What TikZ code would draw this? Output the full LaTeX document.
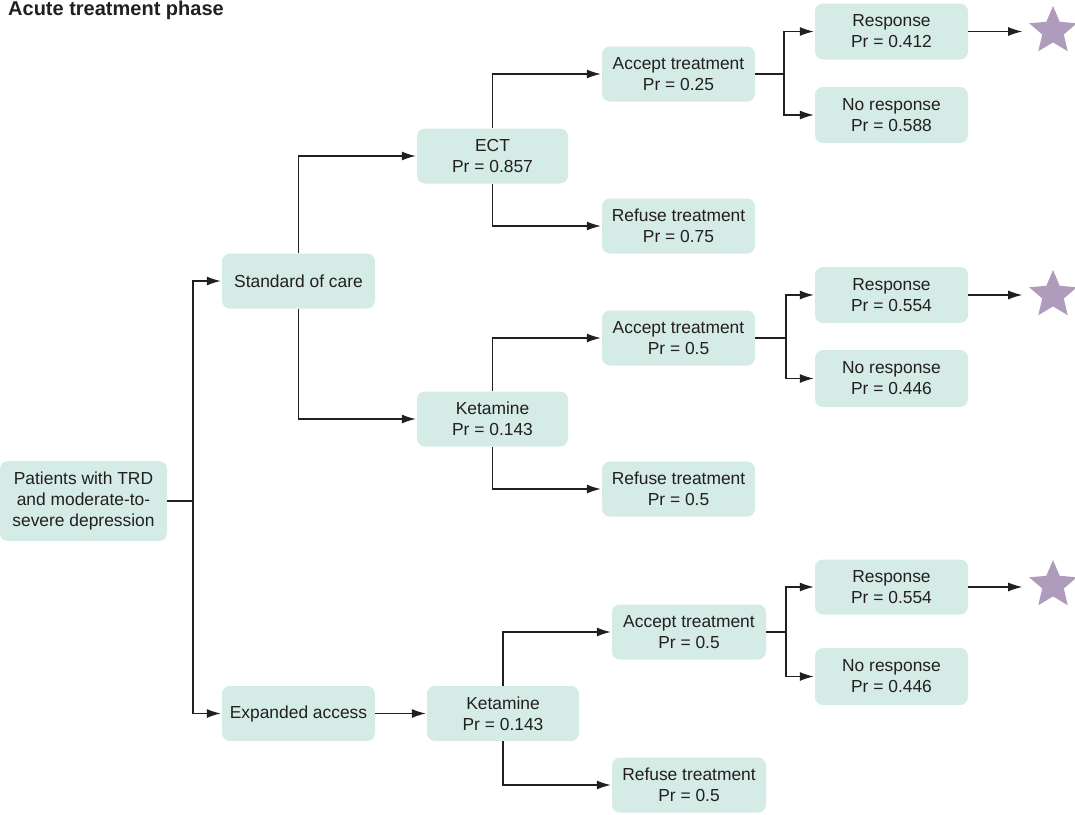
\documentclass[tikz,border=0pt]{standalone}
\usepackage{fontspec}
\setmainfont{Liberation Sans}
\usetikzlibrary{shapes.geometric,arrows.meta}
\definecolor{boxfill}{HTML}{D4EBE6}
\definecolor{inkc}{HTML}{231F20}
\definecolor{starc}{HTML}{AF9BBB}
\begin{document}
\begin{tikzpicture}[x=1pt,y=-1pt,
  box/.style={fill=boxfill,draw=none,rounded corners=8pt,align=center,inner sep=0pt,
    text=inkc,font=\fontsize{17.4}{21}\selectfont,minimum width=153pt,minimum height=55pt},
  conn/.style={draw=inkc,line width=1.2pt},
  arr/.style={conn,-{Latex[length=14pt,width=9pt]},shorten >=1pt},
  starnode/.style={star,star points=5,star point ratio=2.2,fill=starc,draw=none,minimum size=50pt,inner sep=0pt}]
\useasboundingbox (0,0) rectangle (1075,814);
\node[anchor=north west,inner sep=0pt,text=inkc,font=\fontsize{20}{22}\selectfont\bfseries] (title) at (8,1) {Acute treatment phase};
% nodes
\node[box,minimum width=167pt,minimum height=80pt] (pat) at (83.5,501) {Patients with TRD\\and moderate-to-\\severe depression};
\node[box] (soc) at (298.5,281) {Standard of care};
\node[box] (ea) at (298.5,713.5) {Expanded access};
\node[box,minimum width=151pt] (ect) at (492.5,156) {ECT\\Pr = 0.857};
\node[box,minimum width=151pt] (ket1) at (492.5,419) {Ketamine\\Pr = 0.143};
\node[box,minimum width=152pt] (ket2) at (503,713.5) {Ketamine\\Pr = 0.143};
\node[box] (acc1) at (678.5,74) {Accept treatment\\Pr = 0.25};
\node[box] (ref1) at (678.5,226) {Refuse treatment\\Pr = 0.75};
\node[box] (acc2) at (678.5,338) {Accept treatment\\Pr = 0.5};
\node[box] (ref2) at (678.5,489) {Refuse treatment\\Pr = 0.5};
\node[box,minimum width=154pt] (acc3) at (689,632) {Accept treatment\\Pr = 0.5};
\node[box,minimum width=154pt] (ref3) at (689,785) {Refuse treatment\\Pr = 0.5};
\node[box,minimum height=56pt] (r1) at (891.5,31.5) {Response\\Pr = 0.412};
\node[box,minimum height=56pt] (n1) at (891.5,115) {No response\\Pr = 0.588};
\node[box,minimum height=56pt] (r2) at (891.5,295) {Response\\Pr = 0.554};
\node[box,minimum height=57pt] (n2) at (891.5,378.5) {No response\\Pr = 0.446};
\node[box] (r3) at (891.5,587) {Response\\Pr = 0.554};
\node[box,minimum height=57pt] (n3) at (891.5,676.5) {No response\\Pr = 0.446};
\node[starnode] (s1) at (1053,31) {};
\node[starnode] (s2) at (1053,295) {};
\node[starnode] (s3) at (1053,585) {};
% fork coordinates
\coordinate (f0) at (193,501);
\coordinate (f1) at (784,74);
\coordinate (f2) at (786,338);
\coordinate (f3) at (786,632);
% connectors
\draw[conn] (pat.east) -- (f0);
\draw[arr] (f0) |- (soc.west);
\draw[arr] (f0) |- (ea.west);
\draw[arr] (soc.north) |- (ect.west);
\draw[arr] (soc.south) |- (ket1.west);
\draw[arr] (ea.east) -- (ket2.west);
\draw[arr] (ect.north) |- (acc1.west);
\draw[arr] (ect.south) |- (ref1.west);
\draw[arr] (ket1.north) |- (acc2.west);
\draw[arr] (ket1.south) |- (ref2.west);
\draw[arr] (ket2.north) |- (acc3.west);
\draw[arr] (ket2.south) |- (ref3.west);
\draw[conn] (acc1.east) -- (f1);
\draw[arr] (f1) |- (r1.west);
\draw[arr] (f1) |- (n1.west);
\draw[conn] (acc2.east) -- (f2);
\draw[arr] (f2) |- (r2.west);
\draw[arr] (f2) |- (n2.west);
\draw[conn] (acc3.east) -- (f3);
\draw[arr] (f3) |- (r3.west);
\draw[arr] (f3) |- (n3.west);
\draw[arr] (r1.east) -- ++(55,0) coordinate (e1);
\draw[arr] (r2.east) -- ++(55,0) coordinate (e2);
\draw[arr] (r3.east) -- ++(55,0) coordinate (e3);
\end{tikzpicture}
\end{document}
